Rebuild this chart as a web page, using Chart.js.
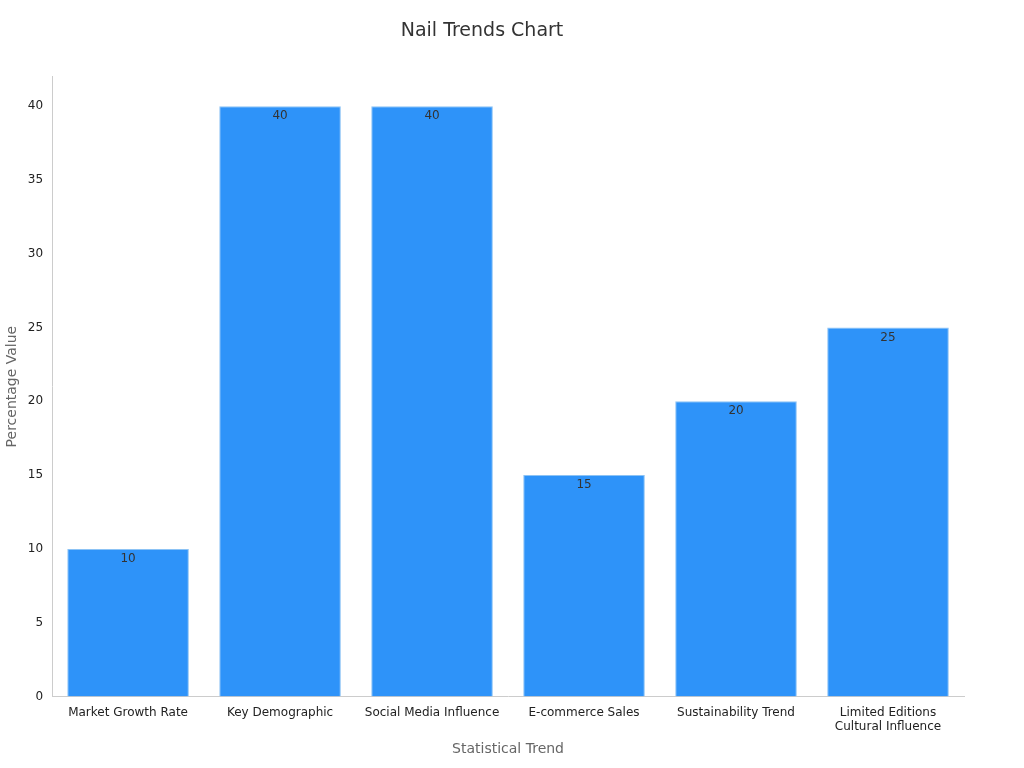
<!DOCTYPE html>
<html>
<head>
<meta charset="utf-8">
<script src="https://cdn.jsdelivr.net/npm/chart.js@4"></script>
<style>
  body { margin: 0; background: #fff; }
  #wrap { width: 1024px; height: 768px; }
</style>
</head>
<body>
<div id="wrap"><canvas id="chart"></canvas></div>
<script>
// Chart data
const categories = [
    'Market Growth Rate',
    'Key Demographic',
    'Social Media Influence',
    'E-commerce Sales',
    'Sustainability Trend',
    ['Limited Editions', 'Cultural Influence']
];
const values = [10, 40, 40, 15, 20, 25];

// draws the value just inside the top of each bar
const barLabels = {
    id: 'barLabels',
    afterDatasetsDraw(chart) {
        const ctx = chart.ctx;
        const meta = chart.getDatasetMeta(0);
        ctx.save();
        ctx.font = '12px "DejaVu Sans", sans-serif';
        ctx.fillStyle = '#333';
        ctx.textAlign = 'center';
        ctx.textBaseline = 'top';
        meta.data.forEach(function(bar, i) {
            ctx.fillText(values[i], bar.x, bar.y + 4);
        });
        ctx.restore();
    }
};

new Chart(document.getElementById('chart'), {
    type: 'bar',
    data: {
        labels: categories,
        datasets: [{
            data: values,
            backgroundColor: '#2E93F9',
            borderColor: '#8CC3F5',
            borderWidth: 1,
            barPercentage: 0.8,
            categoryPercentage: 1
        }]
    },
    options: {
        responsive: true,
        maintainAspectRatio: false,
        animation: false,
        layout: { padding: { left: 0, right: 60, top: 10, bottom: 6 } },
        plugins: {
            legend: { display: false },
            tooltip: { enabled: false },
            title: {
                display: true,
                text: 'Nail Trends Chart',
                color: '#333',
                font: { family: '"DejaVu Sans", sans-serif', size: 19, weight: 'normal' },
                padding: { top: 10, bottom: 34 }
            }
        },
        scales: {
            x: {
                grid: { display: false, drawTicks: true, tickLength: 6 },
                border: { color: '#ccc' },
                ticks: { color: '#222', font: { family: '"DejaVu Sans", sans-serif', size: 12 } },
                title: {
                    display: true,
                    text: 'Statistical Trend',
                    color: '#666',
                    font: { family: '"DejaVu Sans", sans-serif', size: 14 }
                }
            },
            y: {
                min: 0,
                max: 42,
                grid: { display: false, drawTicks: true, tickLength: 6 },
                border: { color: '#ccc' },
                ticks: {
                    stepSize: 5,
                    color: '#222',
                    font: { family: '"DejaVu Sans", sans-serif', size: 12 },
                    callback: function(v) { return v % 5 === 0 ? v : null; }
                },
                title: {
                    display: true,
                    text: 'Percentage Value',
                    color: '#666',
                    font: { family: '"DejaVu Sans", sans-serif', size: 14 }
                }
            }
        }
    },
    plugins: [barLabels]
});
</script>
</body>
</html>
